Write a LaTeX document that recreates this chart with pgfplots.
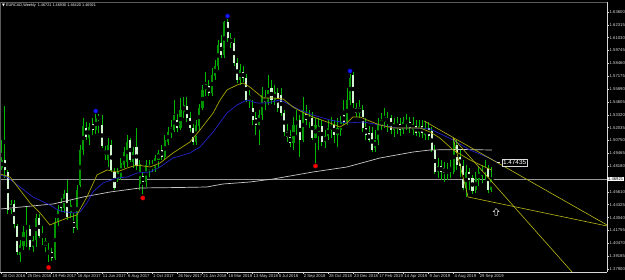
\documentclass[border=0pt]{standalone}
\usepackage{fontspec}
\setmainfont{Liberation Sans}
\newfontfamily\djv{DejaVu Sans}
\usepackage{pgfplots}
\usepackage{pgfplotstable}
\pgfplotsset{compat=1.18}
\definecolor{wick}{RGB}{0,185,0}
\definecolor{bullbody}{RGB}{0,150,0}
\definecolor{bearbody}{RGB}{210,245,210}
\definecolor{maY}{RGB}{165,165,0}
\definecolor{maB}{RGB}{35,35,200}
\definecolor{maW}{RGB}{200,200,200}
\definecolor{tl}{RGB}{185,185,20}
\definecolor{fg}{RGB}{215,215,215}
\definecolor{frame}{RGB}{90,90,90}

\pgfdeclareplotmark{uparrow}{%
  \pgfpathmoveto{\pgfqpoint{0pt}{\pgfplotmarksize}}%
  \pgfpathlineto{\pgfqpoint{-0.85\pgfplotmarksize}{0.1\pgfplotmarksize}}%
  \pgfpathlineto{\pgfqpoint{-0.35\pgfplotmarksize}{0.1\pgfplotmarksize}}%
  \pgfpathlineto{\pgfqpoint{-0.35\pgfplotmarksize}{-\pgfplotmarksize}}%
  \pgfpathlineto{\pgfqpoint{0.35\pgfplotmarksize}{-\pgfplotmarksize}}%
  \pgfpathlineto{\pgfqpoint{0.35\pgfplotmarksize}{0.1\pgfplotmarksize}}%
  \pgfpathlineto{\pgfqpoint{0.85\pgfplotmarksize}{0.1\pgfplotmarksize}}%
  \pgfpathclose
  \pgfusepathqfillstroke}

% EURCAD weekly candles: index, open, high, low, close
\pgfplotstableread{
i O H L C
0 1.480 1.508 1.478 1.488
1 1.488 1.542 1.470 1.478
2 1.476 1.478 1.434 1.438
3 1.438 1.448 1.434 1.444
4 1.444 1.448 1.420 1.424
5 1.422 1.424 1.393 1.396
6 1.393 1.408 1.386 1.403
7 1.402 1.422 1.398 1.416
8 1.422 1.441 1.401 1.419
9 1.419 1.423 1.398 1.401
10 1.401 1.412 1.396 1.408
11 1.408 1.434 1.401 1.430
12 1.430 1.434 1.410 1.412
13 1.414 1.422 1.403 1.410
14 1.402 1.410 1.396 1.407
15 1.398 1.405 1.386 1.394
16 1.396 1.400 1.387 1.390
17 1.390 1.430 1.388 1.426
18 1.426 1.443 1.422 1.438
19 1.446 1.450 1.436 1.440
20 1.440 1.458 1.435 1.454
21 1.455 1.468 1.428 1.431
22 1.435 1.448 1.430 1.443
23 1.426 1.435 1.415 1.420
24 1.420 1.463 1.418 1.458
25 1.463 1.503 1.461 1.498
26 1.498 1.530 1.493 1.522
27 1.520 1.526 1.508 1.511
28 1.510 1.525 1.503 1.521
29 1.524 1.530 1.513 1.518
30 1.518 1.534 1.514 1.530
31 1.528 1.534 1.515 1.532
32 1.523 1.533 1.500 1.502
33 1.493 1.502 1.488 1.498
34 1.488 1.510 1.481 1.503
35 1.503 1.508 1.476 1.478
36 1.476 1.480 1.458 1.460
37 1.468 1.480 1.466 1.476
38 1.470 1.490 1.468 1.485
39 1.483 1.501 1.480 1.496
40 1.486 1.513 1.481 1.506
41 1.508 1.510 1.486 1.488
42 1.486 1.501 1.480 1.496
43 1.501 1.520 1.478 1.482
44 1.464 1.488 1.458 1.484
45 1.472 1.476 1.454 1.466
46 1.466 1.488 1.461 1.483
47 1.478 1.488 1.471 1.483
48 1.483 1.488 1.476 1.480
49 1.480 1.493 1.476 1.490
50 1.488 1.498 1.480 1.495
51 1.498 1.503 1.488 1.491
52 1.491 1.513 1.488 1.508
53 1.506 1.521 1.503 1.516
54 1.515 1.528 1.510 1.520
55 1.518 1.548 1.516 1.533
56 1.528 1.534 1.516 1.520
57 1.520 1.550 1.518 1.538
58 1.536 1.551 1.530 1.543
59 1.542 1.551 1.526 1.530
60 1.530 1.536 1.516 1.520
61 1.520 1.524 1.503 1.506
62 1.506 1.528 1.503 1.523
63 1.522 1.544 1.518 1.540
64 1.540 1.563 1.538 1.558
65 1.558 1.576 1.552 1.564
66 1.562 1.568 1.552 1.555
67 1.555 1.580 1.552 1.573
68 1.572 1.588 1.568 1.582
69 1.582 1.608 1.578 1.603
70 1.605 1.613 1.590 1.593
71 1.593 1.627 1.590 1.626
72 1.626 1.629 1.606 1.610
73 1.610 1.615 1.600 1.605
74 1.605 1.610 1.582 1.585
75 1.585 1.590 1.565 1.568
76 1.568 1.584 1.563 1.578
77 1.576 1.582 1.566 1.570
78 1.570 1.574 1.546 1.548
79 1.548 1.558 1.540 1.553
80 1.540 1.548 1.523 1.528
81 1.530 1.536 1.513 1.523
82 1.523 1.538 1.503 1.533
83 1.533 1.561 1.528 1.553
84 1.551 1.558 1.538 1.546
85 1.546 1.573 1.543 1.558
86 1.560 1.568 1.544 1.548
87 1.548 1.563 1.543 1.556
88 1.555 1.560 1.536 1.540
89 1.553 1.560 1.532 1.535
90 1.535 1.538 1.512 1.516
91 1.516 1.524 1.506 1.511
92 1.511 1.518 1.501 1.505
93 1.505 1.531 1.498 1.523
94 1.523 1.538 1.513 1.528
95 1.528 1.533 1.491 1.508
96 1.508 1.551 1.506 1.538
97 1.534 1.543 1.523 1.528
98 1.526 1.538 1.520 1.530
99 1.530 1.536 1.508 1.510
100 1.510 1.530 1.485 1.523
101 1.516 1.530 1.498 1.522
102 1.522 1.528 1.502 1.506
103 1.506 1.518 1.500 1.512
104 1.512 1.528 1.508 1.520
105 1.518 1.531 1.510 1.523
106 1.523 1.528 1.505 1.513
107 1.513 1.530 1.501 1.520
108 1.518 1.532 1.512 1.526
109 1.533 1.548 1.523 1.526
110 1.526 1.560 1.523 1.548
111 1.548 1.574 1.543 1.570
112 1.573 1.576 1.540 1.545
113 1.540 1.545 1.531 1.535
114 1.535 1.548 1.530 1.540
115 1.538 1.543 1.516 1.520
116 1.520 1.530 1.508 1.513
117 1.515 1.522 1.506 1.508
118 1.515 1.521 1.496 1.498
119 1.500 1.518 1.496 1.508
120 1.508 1.530 1.503 1.523
121 1.523 1.535 1.518 1.528
122 1.526 1.540 1.520 1.531
123 1.526 1.536 1.516 1.530
124 1.530 1.533 1.514 1.518
125 1.518 1.530 1.511 1.525
126 1.520 1.531 1.514 1.524
127 1.524 1.530 1.512 1.518
128 1.518 1.531 1.514 1.526
129 1.524 1.534 1.518 1.528
130 1.526 1.531 1.515 1.520
131 1.518 1.531 1.513 1.524
132 1.522 1.528 1.512 1.515
133 1.515 1.528 1.511 1.522
134 1.522 1.528 1.510 1.515
135 1.513 1.527 1.508 1.520
136 1.520 1.526 1.508 1.512
137 1.517 1.521 1.496 1.498
138 1.498 1.503 1.474 1.476
139 1.476 1.490 1.470 1.482
140 1.482 1.488 1.468 1.476
141 1.480 1.486 1.466 1.475
142 1.475 1.485 1.468 1.478
143 1.476 1.488 1.470 1.480
144 1.476 1.510 1.474 1.506
145 1.503 1.508 1.478 1.483
146 1.491 1.498 1.471 1.482
147 1.482 1.488 1.458 1.460
148 1.460 1.483 1.451 1.476
149 1.476 1.480 1.458 1.468
150 1.470 1.473 1.454 1.457
151 1.458 1.476 1.455 1.470
152 1.468 1.481 1.462 1.476
153 1.472 1.483 1.465 1.478
154 1.476 1.488 1.468 1.480
155 1.480 1.483 1.455 1.458
156 1.458 1.481 1.456 1.469
}\candles

\begin{document}
\begin{tikzpicture}[x=1pt,y=1pt]
\fill[black] (0,0) rectangle (625,280);
\path[use as bounding box] (0,0) rectangle (625,280);
\begin{axis}[
  at={(0pt,8pt)}, anchor=south west,
  scale only axis, width=607pt, height=270pt,
  xmin=-0.478, xmax=192.83, ymin=1.376, ymax=1.646,
  clip mode=individual,
  axis background/.style={fill=black},
  axis x line*=bottom, axis y line*=right,
  axis line style={fg, line width=0.6pt},
  tick align=outside, major tick length=2pt,
  tick style={fg, line width=0.5pt},
  xtick={0,8,...,152},
  xticklabels={30 Oct 2016,25 Dec 2016,19 Feb 2017,16 Apr 2017,11 Jun 2017,6 Aug 2017,1 Oct 2017,26 Nov 2017,21 Jan 2018,18 Mar 2018,13 May 2018,8 Jul 2018,2 Sep 2018,28 Oct 2018,23 Dec 2018,17 Feb 2019,14 Apr 2019,9 Jun 2019,4 Aug 2019,29 Sep 2019},
  ytick={1.636,1.62315,1.6103,1.59745,1.5846,1.57175,1.5589,1.54605,1.5332,1.52035,1.5075,1.49465,1.4818,1.4561,1.44325,1.4304,1.41755,1.4047,1.39185,1.379},
  yticklabels={1.63600,1.62315,1.61030,1.59745,1.58460,1.57175,1.55890,1.54605,1.53320,1.52035,1.50750,1.49465,1.48180,1.45610,1.44325,1.43040,1.41755,1.40470,1.39185,1.37900},
  xticklabel style={font=\fontsize{4.2}{5}\selectfont, text=fg, anchor=north west, inner sep=0.5pt, xshift=0.3pt},
  yticklabel style={font=\fontsize{4.2}{5}\selectfont, text=fg, anchor=west, inner sep=0.5pt},
]
% bid line
\addplot[gray!80, line width=0.6pt] coordinates {(-0.478,1.469) (192.83,1.469)};
% wicks
\addplot[only marks, mark=none, error bars/.cd, y dir=both, y explicit, error mark=none,
  error bar style={wick, line width=0.7pt}]
  table[x=i, y expr={(\thisrow{H}+\thisrow{L})/2}, y error expr={(\thisrow{H}-\thisrow{L})/2}] {\candles};
% bull bodies
\addplot[only marks, mark=none, error bars/.cd, y dir=both, y explicit, error mark=none,
  error bar style={bullbody, line width=2.1pt}]
  table[x=i, y expr={\thisrow{C}>\thisrow{O} ? (\thisrow{O}+\thisrow{C})/2 : nan}, y error expr={abs(\thisrow{C}-\thisrow{O})/2}] {\candles};
% bear bodies
\addplot[only marks, mark=none, error bars/.cd, y dir=both, y explicit, error mark=none,
  error bar style={bearbody, line width=2.1pt}]
  table[x=i, y expr={\thisrow{C}<\thisrow{O} ? (\thisrow{O}+\thisrow{C})/2 : nan}, y error expr={abs(\thisrow{C}-\thisrow{O})/2}] {\candles};
% slow moving average (light gray)
\addplot[maW, line width=0.7pt] coordinates {
(-0.4,1.439) (16.4,1.444) (26.0,1.451) (34.6,1.456) (44.1,1.460) (56.8,1.4605) (65.4,1.461) (70.5,1.464) (79.1,1.466) (86.5,1.469) (91.9,1.472) (99.2,1.476) (110.0,1.481) (120.5,1.490) (131.1,1.496) (136.5,1.498) (146.0,1.4985) (156.2,1.498)};
% blue moving average
\addplot[maB, line width=0.7pt] coordinates {
(-0.4,1.473) (1.75,1.471) (5.9,1.461) (10.0,1.451) (15.4,1.443) (18.6,1.437) (22.8,1.435) (25.0,1.436) (27.2,1.445) (29.1,1.456) (32.3,1.465) (36.8,1.470) (40.0,1.471) (43.2,1.475) (47.3,1.476) (50.5,1.481) (54.6,1.490) (60.0,1.495) (63.2,1.501) (67.4,1.516) (71.8,1.535) (75.0,1.543) (78.2,1.548) (81.4,1.545) (84.6,1.545) (88.7,1.548) (95.1,1.538) (99.2,1.533) (104.6,1.528) (110.0,1.525) (115.1,1.526) (120.5,1.523) (126.0,1.520) (131.1,1.520) (136.5,1.519) (141.9,1.511) (143.8,1.508) (149.2,1.498) (154.6,1.491) (157.8,1.486)};
% yellow moving average
\addplot[maY, line width=0.7pt] coordinates {
(-0.4,1.474) (2.7,1.471) (5.9,1.458) (9.1,1.445) (12.3,1.435) (15.4,1.423) (17.7,1.426) (20.9,1.430) (24.0,1.433) (27.2,1.451) (30.4,1.473) (33.6,1.478) (36.8,1.476) (40.0,1.480) (43.2,1.483) (47.3,1.481) (50.5,1.485) (54.6,1.495) (60.0,1.506) (63.2,1.518) (67.4,1.535) (69.6,1.548) (71.8,1.558) (75.0,1.563) (76.9,1.565) (79.1,1.561) (81.4,1.555) (83.3,1.550) (86.5,1.550) (89.7,1.549) (92.8,1.541) (95.1,1.537) (99.2,1.531) (104.6,1.525) (107.8,1.521) (110.0,1.525) (111.9,1.531) (114.2,1.531) (116.4,1.528) (120.5,1.523) (124.7,1.520) (129.1,1.520) (133.3,1.520) (136.5,1.516) (139.6,1.510) (142.8,1.501) (143.8,1.498) (149.2,1.488) (154.6,1.480) (156.2,1.478)};
% trend lines
\addplot[tl, line width=0.6pt] coordinates {(134.6,1.527) (192.83,1.423)};
\addplot[tl, line width=0.6pt] coordinates {(148.6,1.451) (192.83,1.422)};
\addplot[tl, line width=0.6pt] coordinates {(143.8,1.510) (181.7,1.376)};
\addplot[tl, line width=0.6pt] coordinates {(143.8,1.510) (148.6,1.451)};
% swing markers
\addplot[only marks, mark=*, mark size=2.2pt, mark options={fill=red, draw=red!70!black}] coordinates {(15,1.3805) (45,1.450) (100,1.482)};
\addplot[only marks, mark=*, mark size=2.2pt, mark options={fill=blue!90!white, draw=blue!60!black}] coordinates {(30,1.537) (72,1.632) (111,1.577)};
% arrow
\addplot[only marks, mark=uparrow, mark size=3.5pt, mark options={draw=gray!30, fill=black, line width=0.5pt}] coordinates {(157.5,1.436)};
% label tick
\addplot[fg, line width=0.5pt] coordinates {(157.8,1.4855) (158.9,1.4855)};
\node[draw=fg, fill=black, text=white, line width=0.5pt, inner xsep=1pt, inner ysep=1pt, font=\fontsize{6.4}{7}\selectfont] at (axis cs:163.4,1.4855) {1.47435};
% current price label
\node[anchor=west, fill=white, text=black, inner xsep=0.8pt, inner ysep=0.6pt, font=\fontsize{4.2}{5}\selectfont] at (axis cs:192.83,1.469) {1.46921};
% title
\node[anchor=north west, text=white, inner sep=0pt, font=\fontsize{3.8}{4.5}\selectfont] at ([xshift=2pt,yshift=-1.5pt]rel axis cs:0,1) {{\djv ▼}\ EURCAD,Weekly\ \ 1.46721 1.46930 1.46420 1.46921};
% frame left/top
\draw[frame, line width=0.8pt] (rel axis cs:0,0) -- (rel axis cs:0,1) -- (rel axis cs:1,1);
\end{axis}
\end{tikzpicture}
\end{document}
